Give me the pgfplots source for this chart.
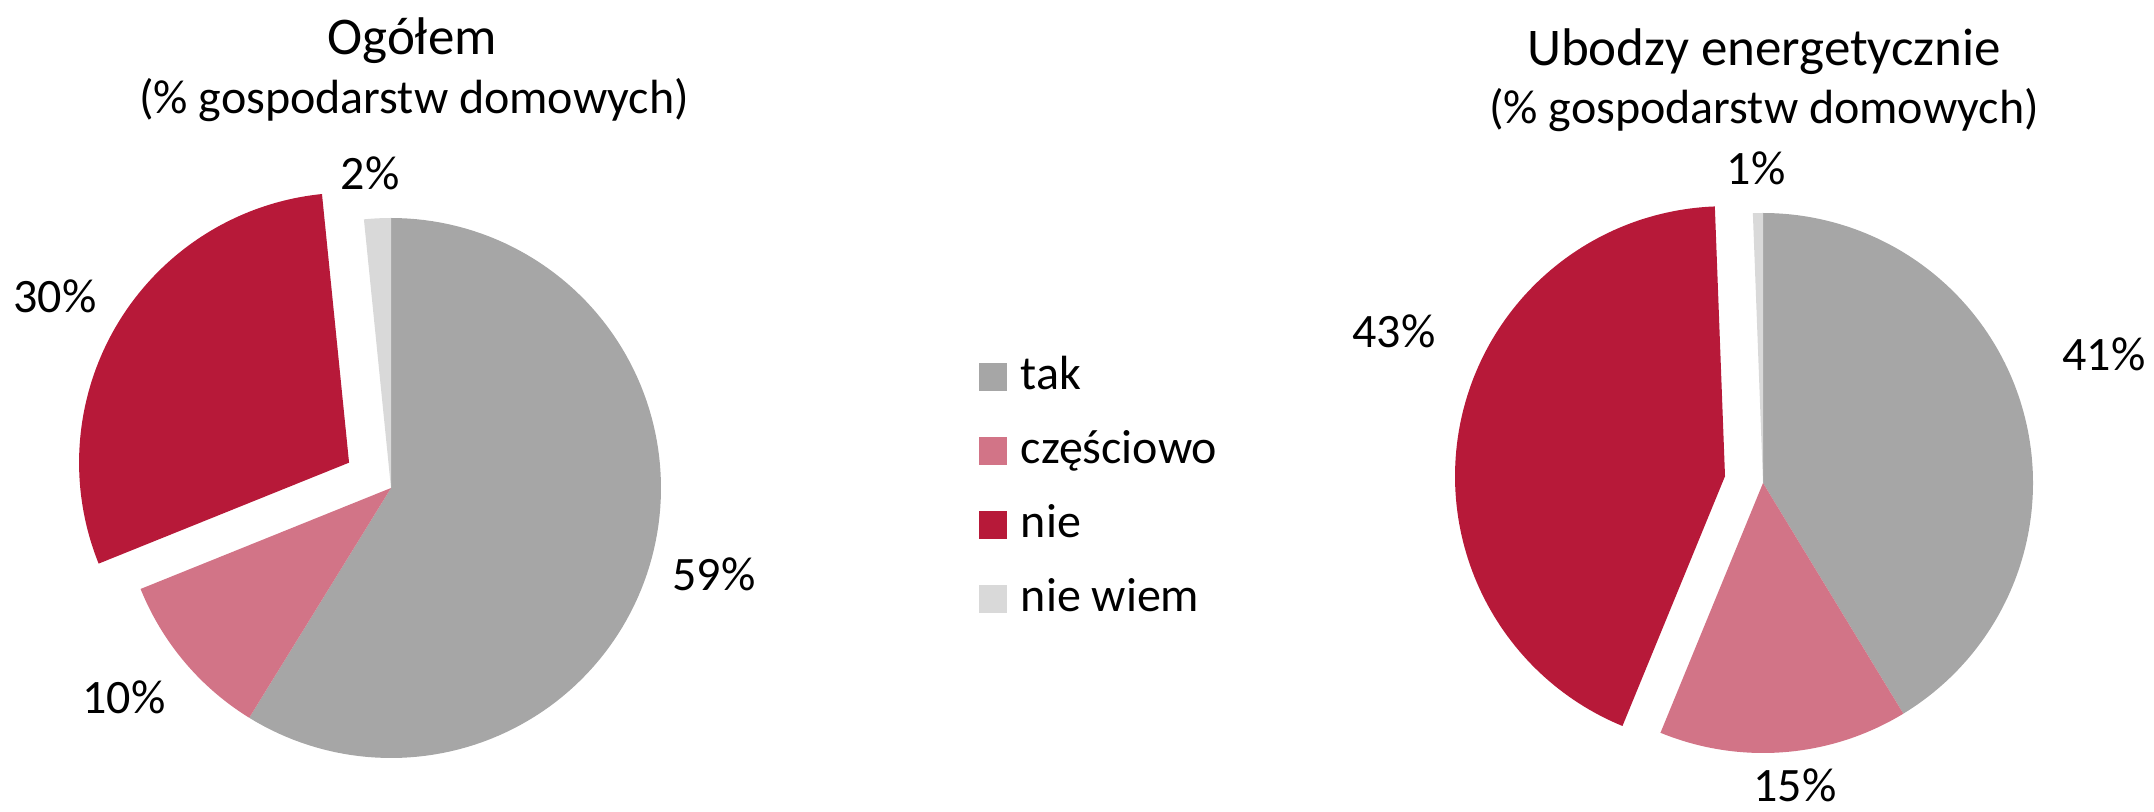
\documentclass[border=0pt]{standalone}
\usepackage{pgfplots}
\pgfplotsset{compat=1.18}
\usepackage{pgfplotstable}
\usepackage{fontspec}
\setmainfont{Carlito}
\definecolor{cTak}{HTML}{A6A6A6}
\definecolor{cCz}{HTML}{D27487}
\definecolor{cNie}{HTML}{B71939}
\definecolor{cNw}{HTML}{D9D9D9}
\newcommand\lab{\fontsize{24bp}{28bp}\selectfont}
\newcommand\ttl{\fontsize{26.5bp}{30bp}\selectfont}

% shares in percent
\pgfplotstableread{
part value
tak 58.8
czesciowo 10.1
nie 29.5
niewiem 1.6
}\ogolem
\pgfplotstableread{
part value
tak 41.3
czesciowo 14.9
nie 43.2
niewiem 0.6
}\ubodzy

% #1 cx, #2 cy, #3 low angle, #4 high angle, #5 colour, #6 explosion distance
\newcommand\slice[6]{%
  \pgfmathsetmacro\mid{(#3+#4)/2}%
  \pgfmathsetmacro\ox{#1+#6*cos(\mid)}%
  \pgfmathsetmacro\oy{#2+#6*sin(\mid)}%
  \edef\doit{\noexpand\addplot[draw=none, fill=#5, forget plot, domain=#3:#4, samples=120]
    ({\ox+270*cos(x)},{\oy+270*sin(x)}) -- (\ox,\oy) -- cycle;}%
  \doit
}
% #1 table, #2 cx, #3 cy, #4 explosion of "nie"
\newcommand\pie[4]{%
  \pgfplotstablegetelem{0}{value}\of#1\pgfmathsetmacro\aA{90-3.6*\pgfplotsretval}%
  \pgfplotstablegetelem{1}{value}\of#1\pgfmathsetmacro\aB{\aA-3.6*\pgfplotsretval}%
  \pgfplotstablegetelem{2}{value}\of#1\pgfmathsetmacro\aC{\aB-3.6*\pgfplotsretval}%
  \pgfplotstablegetelem{3}{value}\of#1\pgfmathsetmacro\aD{\aC-3.6*\pgfplotsretval}%
  \slice{#2}{#3}{\aA}{90}{cTak}{0}%
  \slice{#2}{#3}{\aB}{\aA}{cCz}{0}%
  \slice{#2}{#3}{\aC}{\aB}{cNie}{#4}%
  \slice{#2}{#3}{\aD}{\aC}{cNw}{0}%
}

\begin{document}
\begin{tikzpicture}
\begin{axis}[
  at={(0,0)}, anchor=south west,
  scale only axis, width=1077bp, height=406bp,
  xmin=0, xmax=2154, ymin=0, ymax=812,
  hide axis, clip=false,
  legend image code/.code={\fill[#1] (0bp,0bp) rectangle (13.5bp,13.5bp);},
  legend style={draw=none, fill=none, at={(axis cs:979,458)}, anchor=north west,
    inner sep=0pt, outer sep=0pt, row sep=13bp, column sep=7bp,
    font=\lab,
    nodes={inner sep=0pt, text height=18bp, text depth=6bp, anchor=base west}},
  legend cell align=left,
]
\pie{\ogolem}{391}{324}{49}
\pie{\ubodzy}{1763}{329}{38.6}

\addlegendimage{cTak}\addlegendentry{tak}
\addlegendimage{cCz}\addlegendentry{częściowo}
\addlegendimage{cNie}\addlegendentry{nie}
\addlegendimage{cNw}\addlegendentry{nie wiem}

\node[anchor=base, font=\ttl] at (axis cs:412,757) {Ogółem};
\node[anchor=base, font=\lab] at (axis cs:414,698) {(\% gospodarstw domowych)};
\node[anchor=base, font=\ttl] at (axis cs:1764,746) {Ubodzy energetycznie};
\node[anchor=base, font=\lab] at (axis cs:1764,688) {(\% gospodarstw domowych)};

\node[anchor=base, font=\lab] at (axis cs:714,221) {59\%};
\node[anchor=base, font=\lab] at (axis cs:124,98) {10\%};
\node[anchor=base, font=\lab] at (axis cs:55,499) {30\%};
\node[anchor=base, font=\lab] at (axis cs:370,622) {2\%};

\node[anchor=base, font=\lab] at (axis cs:2104,441) {41\%};
\node[anchor=base, font=\lab] at (axis cs:1795,10) {15\%};
\node[anchor=base, font=\lab] at (axis cs:1394,464) {43\%};
\node[anchor=base, font=\lab] at (axis cs:1756,627) {1\%};
\end{axis}
\pgfresetboundingbox
\path (0,0) rectangle (1077bp,406bp);
\end{tikzpicture}
\end{document}
